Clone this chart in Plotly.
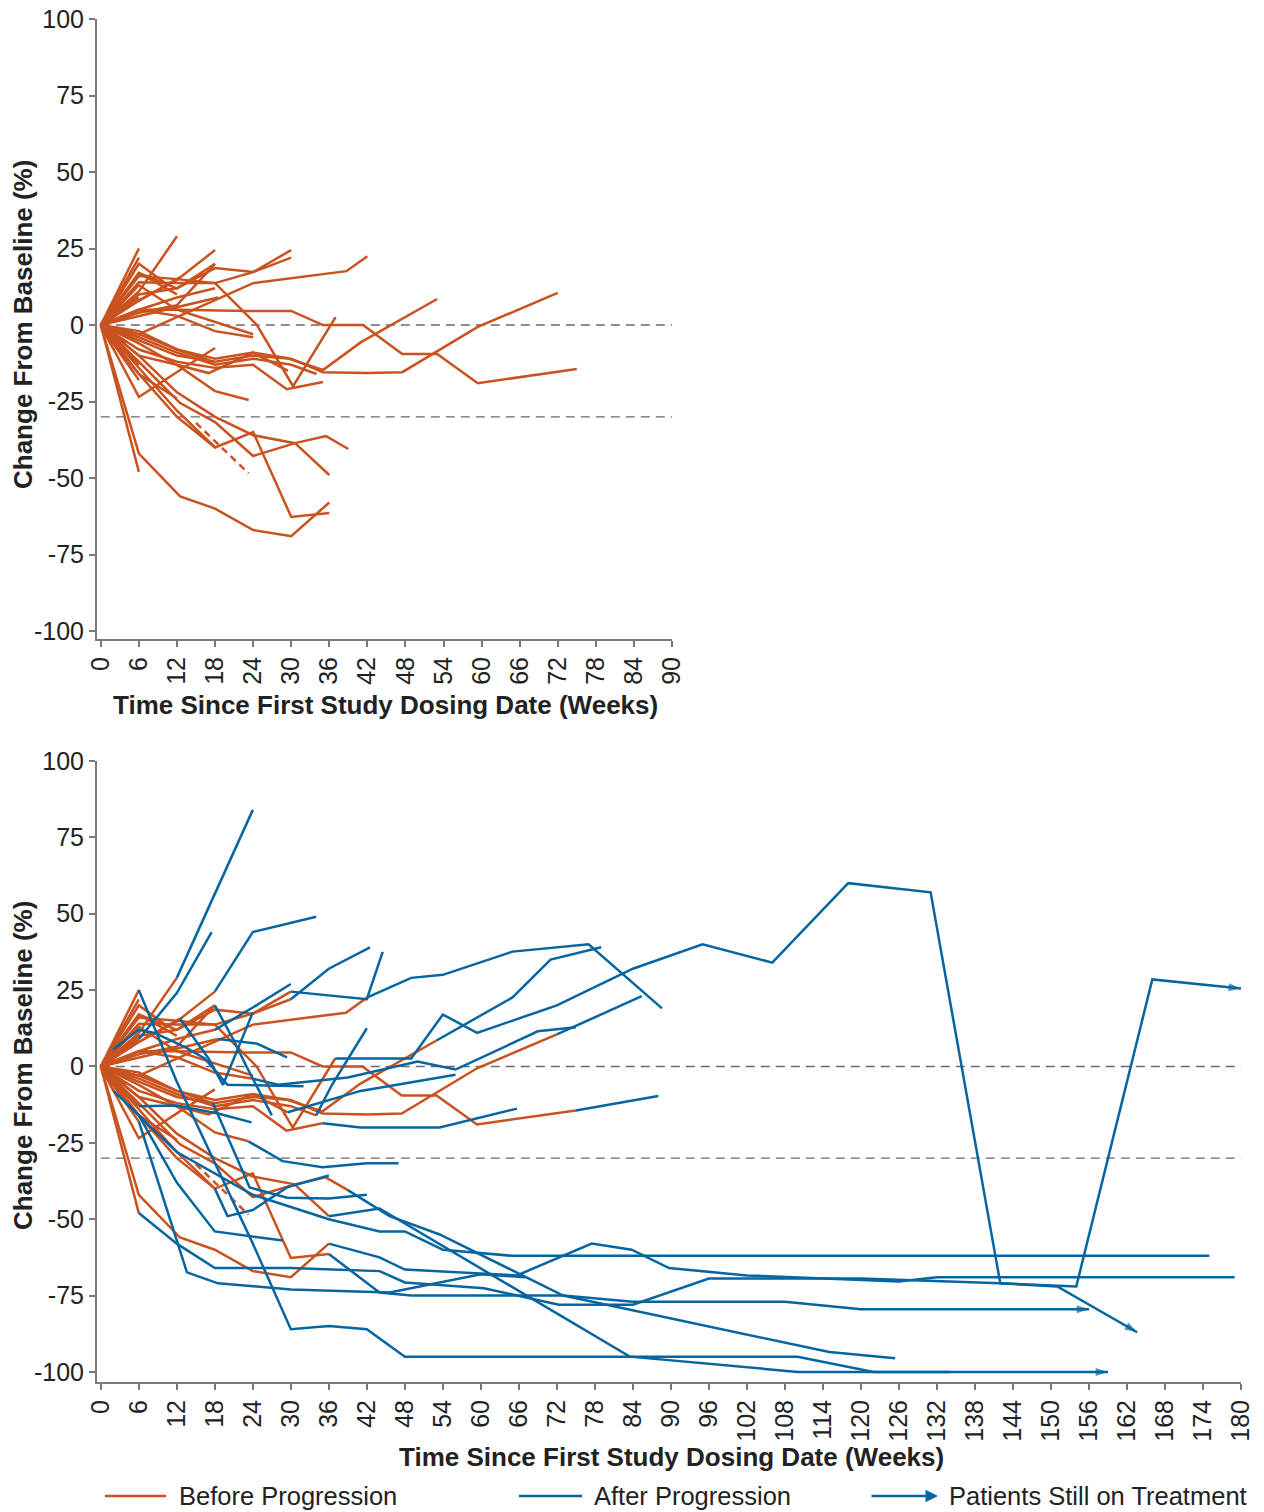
import plotly.graph_objects as go

ORANGE = "#c9521f"
BLUE = "#0565a1"
GRAY = "#7a7a7a"
DASHGRAY = "#6a6a6a"
FONT = "Liberation Sans, Arial, sans-serif"

# ---- Data: per patient, before-progression (orange) and after-progression (blue) ----
pre_weeks = [
    [0, 6], [0, 6], [0, 6, 12], [0, 6, 12, 18], [0, 6, 12, 18],
    [0, 6, 12, 18, 24, 30], [0, 6, 12, 18, 24, 30], [0, 6, 12, 24, 38.7, 42],
    [0, 6, 12, 18, 24.6, 30.3, 37], [0, 6, 12, 23, 30, 35, 41.3, 47.5, 53, 59.4, 75],
    [0, 6, 12, 17, 24, 29.3, 35, 41, 53], [0, 6, 12, 18, 24, 30, 35, 42, 47.5, 59.4, 72],
    [0, 6, 12, 18, 24, 29.3, 35], [0, 6, 12, 18, 24, 29.5], [0, 6, 12.5, 18, 23.3],
    [0, 6, 12.5, 18, 24, 30.6, 35.5, 39], [0, 6, 12, 18, 24, 30, 36], [0, 6, 12, 18, 24, 30.6, 36],
    [0, 6, 12.5, 18, 24, 30, 36], [0, 6],
    [0, 6, 12.5], [0, 6, 12, 18], [0, 6, 12, 18], [0, 6, 12, 18.5], [0, 2], [0, 6],
    [0, 6, 12, 18, 24], [0, 6, 12, 18, 24, 30, 34], [0, 2], [0, 4], [0, 6], [0, 6],
    [0, 6, 12, 17.7], [0, 6, 12, 18], [0, 6, 12.5, 18],
    [0, 5], [0, 6, 12], [0, 6, 12, 18, 24], [0, 4], [0, 6, 10], [0, 6, 12],
]
pre_values = [
    [0, 25], [0, 22], [0, 11, 29], [0, 8, 14.7, 24.5], [0, 4, 6.5, 20],
    [0, 14, 13.7, 13.7, 17.3, 24.5], [0, 17, 12, 18.6, 17.3, 22], [0, -3, 2.6, 13.7, 17.6, 22.5],
    [0, 16, 15, 13.7, 0, -20, 2.6], [0, 5, 5, 4.6, 4.6, 0, 0, -9.5, -9.5, -19, -14.4],
    [0, -10, -13, -15.7, -9, -10.8, -14.7, -5.6, 8.5], [0, -5, -10, -12, -10, -11, -15.4, -15.7, -15.4, -0.6, 10.5],
    [0, -8, -12, -14, -13, -21, -18.6], [0, -2, -8, -11, -9, -15], [0, -6, -13.7, -21.6, -24.5],
    [0, -12, -25.5, -31.7, -42.8, -38.6, -36.3, -40.5], [0, -14, -28, -40, -35, -62.7, -61.4],
    [0, -10, -22, -30, -36, -38.6, -49],
    [0, -42, -56, -60, -67, -69, -58], [0, -48],
    [0, 8, 15.7], [0, 10, 12, 20], [0, 5, 9, 12], [0, 3, 6, 9], [0, 5.6], [0, 9],
    [0, 5, 3, -2, -4], [0, -4, -9, -13, -11, -13, -16], [0, -8], [0, -12], [0, -18], [0, -13],
    [0, -3, -8, -12], [0, -16, -30, -40], [0, -23.5, -14.7, -7.5],
    [0, -15], [0, 17, 10], [0, 13, 5, 1, -3], [0, -6], [0, 20, 14], [0, -16, -24],
]
post_weeks = [
    [6, 12, 24, 30, 36, 42, 48, 110, 122, 159], [], [12, 24], [18, 24, 34], [],
    [30, 42, 44.5], [30, 36, 42.5], [42, 49, 54, 65, 77, 88.6],
    [37, 49, 54, 59.4, 72, 84, 95, 106, 118, 131, 142, 154, 166, 180], [75, 88],
    [53, 65, 71, 79], [72, 85.4],
    [35, 41, 53.5, 65.7], [29.5, 41, 56], [23.3, 28.7, 35, 42, 47],
    [39, 45.6, 53.5, 73, 115, 125.4], [36, 44, 49, 73, 84, 108, 120, 156],
    [36, 44, 83.5, 110, 134],
    [36, 44, 48, 65.7, 77.5, 83.8, 89.7, 102, 126, 132, 179],
    [6, 12, 18, 30, 44, 48, 60.5, 72.3, 84, 96, 120, 138, 142, 151, 163.6],
    [12.5, 17, 19.3, 24], [18, 21, 23, 27], [18, 24, 30], [18.5, 24.6, 29.4],
    [2, 6, 8.5, 13.6, 16.4, 20, 32], [6, 12, 17.5],
    [24, 28, 39, 50, 56, 69, 75], [34, 36.5, 42], [2, 6, 12, 18, 28.7],
    [4, 12, 24, 36, 44, 48, 54, 65, 175], [6, 13.6, 18.5, 30, 45.6, 60, 67], [6, 12, 18.5, 23.8],
    [17.7, 23.5, 29.4, 36, 42], [18, 20, 24, 29.4, 36], [],
    [], [], [], [], [], [],
]
post_values = [
    [25, -5, -58, -86, -85, -86, -95, -95, -100, -100], [], [29, 84], [24.5, 44, 49], [],
    [24.5, 22, 37.5], [22, 32, 39], [22.5, 29, 30, 37.6, 40, 19],
    [2.6, 2.6, 17, 11, 20, 32, 40, 34, 60, 57, -71, -72, 28.5, 25.5], [-14.4, -9.7],
    [8.5, 22.6, 35, 39], [10.5, 23],
    [-18.6, -20, -20, -13.8], [-15, -8, -2.7], [-24.5, -31, -33, -31.7, -31.7],
    [-40.5, -49, -55, -75, -93.5, -95.5], [-61.4, -74, -75, -75, -77, -77, -79.5, -79.5],
    [-49, -46.5, -95, -100, -100],
    [-58, -62.5, -66.5, -68.4, -58, -60, -66, -68.4, -70.4, -69, -69],
    [-48, -58, -66, -66, -67, -70.7, -72.6, -78, -78, -69.4, -69.4, -70.7, -71, -72, -87],
    [15.7, 2.6, -6, 17.7], [20, 8.5, 0, -16], [12, 19.3, 27], [9, 7.5, 3],
    [5.6, 12, 11, 6, 2.6, -6, -6.5], [9, 24, 44],
    [-4, -6, -3.6, 1.6, -1, 11.5, 12.8], [-16, -6, 12.5], [-8, -16, -38, -54, -57],
    [-12, -28, -42, -50, -54, -54, -60, -62, -62], [-18, -67.4, -71, -73, -74, -68, -69], [-13, -12.8, -15.4, -18.3],
    [-12, -39.6, -43, -43.2, -42], [-40, -49, -47, -39.6, -35.7], [],
    [], [], [], [], [], [],
]
still_on_treatment = [
    True, False, False, False, False, False, False, False, True, False,
    False, False, False, False, False, False, True, False, False, True,
    False, False, False, False, False, False, False, False, False, False,
    False, False, False, False, False, False, False, False, False, False, False,
]
dashed_weeks = [15, 23.3]
dashed_values = [-32, -48.5]

top_ticks = list(range(0, 91, 6))
bottom_ticks = list(range(0, 181, 6))
y_ticks = [100, 75, 50, 25, 0, -25, -50, -75, -100]
y_ticktext = [str(v) for v in y_ticks]
ref_lines = [0, -30]

# figure fills the whole window (body margin removed by post_script)
W, H = 1264, 1512
def px(x):
    return x / W
def py(y):
    return 1 - y / H

LW = 2.5
fig = go.Figure()

def add_pre(xa, ya):
    for wk, val in zip(pre_weeks, pre_values):
        fig.add_trace(go.Scatter(x=wk, y=val, mode="lines", xaxis=xa, yaxis=ya,
                                 line=dict(color=ORANGE, width=LW), showlegend=False, hoverinfo="skip"))
    fig.add_trace(go.Scatter(x=dashed_weeks, y=dashed_values, mode="lines", xaxis=xa, yaxis=ya,
                             line=dict(color=ORANGE, width=LW, dash="7px,5px"), showlegend=False, hoverinfo="skip"))

add_pre("x", "y")
add_pre("x2", "y2")

for wk, val, on in zip(post_weeks, post_values, still_on_treatment):
    if not wk:
        continue
    fig.add_trace(go.Scatter(x=wk, y=val, mode="lines", xaxis="x2", yaxis="y2",
                             line=dict(color=BLUE, width=LW), showlegend=False, hoverinfo="skip"))
    if on:
        fig.add_trace(go.Scatter(x=wk[-2:], y=val[-2:], mode="markers", xaxis="x2", yaxis="y2",
                                 marker=dict(symbol="arrow", angleref="previous", size=[0, 13], color=BLUE,
                                             line=dict(width=0)),
                                 showlegend=False, hoverinfo="skip"))

shapes = []
for r in ref_lines:
    shapes.append(dict(type="line", xref="x", yref="y", x0=0, x1=90, y0=r, y1=r,
                       line=dict(color=DASHGRAY, width=1.4, dash="9px,6px"), layer="below"))
    shapes.append(dict(type="line", xref="x2", yref="y2", x0=0, x1=180, y0=r, y1=r,
                       line=dict(color=DASHGRAY, width=1.4, dash="9px,6px"), layer="below"))

# legend
leg_y = 1496
shapes.append(dict(type="line", xref="paper", yref="paper", x0=px(105), x1=px(166), y0=py(leg_y), y1=py(leg_y),
                   line=dict(color=ORANGE, width=2.5)))
shapes.append(dict(type="line", xref="paper", yref="paper", x0=px(519), x1=px(582), y0=py(leg_y), y1=py(leg_y),
                   line=dict(color=BLUE, width=2.5)))

TXT = "#222"
def ann(x, y, text, size, **kw):
    d = dict(xref="paper", yref="paper", x=px(x), y=py(y), text=text, showarrow=False,
             xanchor="center", yanchor="middle", font=dict(size=size, color=TXT, family=FONT))
    d.update(kw)
    return d

annotations = [
    ann(177, leg_y, "Before Progression", 25.5, xanchor="left"),
    ann(592, leg_y, "After Progression", 25.5, xanchor="left"),
    ann(947, leg_y, "Patients Still on Treatment", 25.5, xanchor="left"),
    dict(xref="paper", yref="paper", x=px(938), y=py(leg_y), ax=-68, ay=0, text="", showarrow=True,
         arrowhead=2, arrowsize=1, arrowwidth=2.5, arrowcolor=BLUE),
    ann(23, 325, "<b>Change From Baseline (%)</b>", 26, textangle=-90),
    ann(23, 1066, "<b>Change From Baseline (%)</b>", 26, textangle=-90),
    ann(385, 705, "<b>Time Since First Study Dosing Date (Weeks)</b>", 26),
    ann(671, 1457, "<b>Time Since First Study Dosing Date (Weeks)</b>", 26),
]

axis_common = dict(showline=True, linecolor=GRAY, linewidth=2, ticks="outside", ticklen=6, tickwidth=1.5,
                   tickcolor=GRAY, showgrid=False, zeroline=False, automargin=False,
                   ticklabeloverflow="allow",
                   tickfont=dict(size=25, color=TXT, family=FONT))

fig.update_layout(
    width=W, height=H, margin=dict(l=0, r=0, t=0, b=0, autoexpand=False),
    paper_bgcolor="white", plot_bgcolor="white", showlegend=False,
    xaxis=dict(domain=[px(97), px(672)], range=[-0.6, 90], tickvals=top_ticks, tickangle=-90, anchor="y", **axis_common),
    yaxis=dict(domain=[py(639), py(19)], range=[-102.6, 100], tickvals=y_ticks, ticktext=y_ticktext, anchor="x", **axis_common),
    xaxis2=dict(domain=[px(97), px(1241)], range=[-0.6, 180], tickvals=bottom_ticks, tickangle=-90, anchor="y2", **axis_common),
    yaxis2=dict(domain=[py(1382), py(761)], range=[-103.3, 100], tickvals=y_ticks, ticktext=y_ticktext, anchor="x2", **axis_common),
    shapes=shapes, annotations=annotations,
)

fig.write_html(
    "out.html",
    config={"displayModeBar": False},
    post_script="document.documentElement.style.overflow='hidden';document.body.style.margin='0';document.body.style.overflow='hidden';",
)
